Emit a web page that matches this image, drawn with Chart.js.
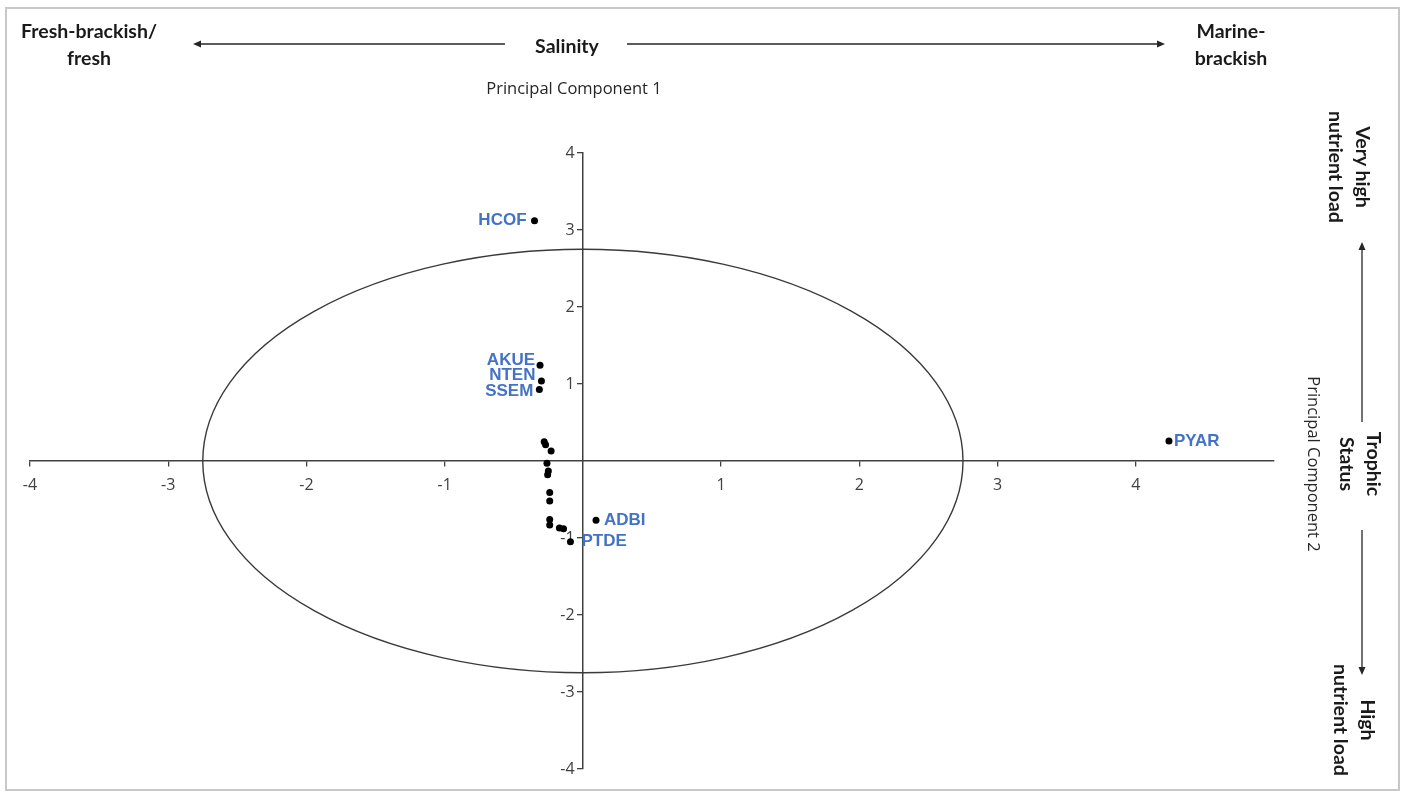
<!DOCTYPE html>
<html>
<head>
<meta charset="utf-8">
<script src="https://cdn.jsdelivr.net/npm/chart.js@4.4.0/dist/chart.umd.min.js"></script>
<style>
html,body{margin:0;padding:0;background:#fff;}
#wrap{position:relative;width:1403px;height:794px;overflow:hidden;background:#fff;}
#frame{position:absolute;left:5px;top:7px;width:1395px;height:784px;border:2px solid #c8c8c8;box-sizing:border-box;pointer-events:none;}
#c{position:absolute;left:0;top:0;}
.ann{position:absolute;transform:translate(-50%,-50%);font-family:Lato,'Liberation Sans',sans-serif;font-weight:700;font-size:19.5px;line-height:27px;color:#1a1a1a;text-align:center;white-space:nowrap;}
.rot{transform:translate(-50%,-50%) rotate(90deg);}
.reg{font-family:'Open Sans','Noto Sans',sans-serif;font-weight:400;font-size:16.5px;color:#262626;}
</style>
</head>
<body>
<div id="wrap">
<canvas id="c" width="1403" height="794"></canvas>
<div id="frame"></div>
<div class="ann" style="left:89px;top:44px;">Fresh-brackish/<br>fresh</div>
<div class="ann" style="left:567px;top:45px;">Salinity</div>
<div class="ann" style="left:1231px;top:44px;">Marine-<br>brackish</div>
<div class="ann reg" style="left:574px;top:87px;">Principal Component 1</div>
<div class="ann rot" style="left:1350px;top:167px;">Very high<br>nutrient load</div>
<div class="ann rot" style="left:1361px;top:464px;">Trophic<br>Status</div>
<div class="ann rot reg" style="left:1314px;top:464px;">Principal Component 2</div>
<div class="ann rot" style="left:1355px;top:720px;">High<br>nutrient load</div>
</div>
<script>
// ---- data ----
const siteLabels = ['HCOF','AKUE','NTEN','SSEM','','','','','','','','','','','','','PTDE','ADBI','PYAR'];
const pc1 = [-0.35,-0.31,-0.30,-0.315,-0.28,-0.27,-0.23,-0.26,-0.25,-0.255,-0.24,-0.24,-0.24,-0.24,-0.17,-0.14,-0.09,0.095,4.24];
const pc2 = [3.12,1.245,1.04,0.93,0.25,0.21,0.13,-0.03,-0.13,-0.18,-0.41,-0.52,-0.76,-0.83,-0.87,-0.88,-1.05,-0.77,0.26];
const xTickLabels = [-4,-3,-2,-1,1,2,3,4];
const yTickLabels = [-4,-3,-2,-1,1,2,3,4];
const ellipseRadiusPC1 = 2.75;
const ellipseRadiusPC2 = 2.75;

// label placement (style, not data)
const labelPlacement = {
  HCOF:{align:'right',dx:-8,dy:0},
  AKUE:{align:'right',dx:-5,dy:-5},
  NTEN:{align:'right',dx:-6,dy:-6},
  SSEM:{align:'right',dx:-6,dy:2},
  PTDE:{align:'left',dx:11,dy:-1},
  ADBI:{align:'left',dx:8,dy:0},
  PYAR:{align:'left',dx:5,dy:0}
};

const decor = {
  id:'decor',
  beforeDatasetsDraw(chart){
    const {ctx, scales:{x,y}} = chart;
    const cx = x.getPixelForValue(0), cy = y.getPixelForValue(0);
    const rx = Math.abs(x.getPixelForValue(ellipseRadiusPC1)-cx);
    const ry = Math.abs(y.getPixelForValue(ellipseRadiusPC2)-cy);
    ctx.save();
    ctx.beginPath();
    ctx.ellipse(cx,cy,rx,ry,0,0,Math.PI*2);
    ctx.strokeStyle='#3a3a3a';
    ctx.lineWidth=1.4;
    ctx.stroke();
    ctx.restore();
  },
  afterDatasetsDraw(chart){
    const {ctx} = chart;
    const meta = chart.getDatasetMeta(0);
    ctx.save();
    ctx.font = 'bold 17px "Liberation Sans", Arial, sans-serif';
    ctx.fillStyle = '#4472C4';
    ctx.textBaseline = 'middle';
    meta.data.forEach((pt,i)=>{
      const name = siteLabels[i];
      if(!name) return;
      const p = labelPlacement[name] || {align:'left',dx:6,dy:0};
      ctx.textAlign = p.align;
      ctx.fillText(name, pt.x + p.dx, pt.y + p.dy);
    });
    ctx.restore();
  },
  afterDraw(chart){
    const ctx = chart.ctx;
    function arrow(x1,y1,x2,y2){
      const ang = Math.atan2(y2-y1,x2-x1);
      const L=8, W=3.5;
      ctx.beginPath();
      ctx.moveTo(x1,y1);
      ctx.lineTo(x2-Math.cos(ang)*L*0.8,y2-Math.sin(ang)*L*0.8);
      ctx.stroke();
      ctx.beginPath();
      ctx.moveTo(x2,y2);
      ctx.lineTo(x2-Math.cos(ang)*L - Math.sin(ang)*W, y2-Math.sin(ang)*L + Math.cos(ang)*W);
      ctx.lineTo(x2-Math.cos(ang)*L + Math.sin(ang)*W, y2-Math.sin(ang)*L - Math.cos(ang)*W);
      ctx.closePath();
      ctx.fill();
    }
    ctx.save();
    ctx.strokeStyle='#262626';
    ctx.fillStyle='#262626';
    ctx.lineWidth=1.3;
    arrow(505,44,193,44);
    arrow(627,44,1165,44);
    arrow(1362,422,1362,242);
    arrow(1362,530,1362,675);
    ctx.restore();
  }
};

const tickFont = {family:"'Open Sans','Noto Sans',sans-serif", size:16};
new Chart(document.getElementById('c'), {
  type:'scatter',
  data:{datasets:[{
    data: pc1.map((v,i)=>({x:v,y:pc2[i]})),
    backgroundColor:'#000',
    borderWidth:0,
    pointRadius:3.5,
    pointHoverRadius:3.5
  }]},
  options:{
    responsive:false,
    animation:false,
    devicePixelRatio:1,
    events:[],
    layout:{padding:{left:30,right:129,top:153,bottom:25}},
    plugins:{legend:{display:false},tooltip:{enabled:false}},
    scales:{
      x:{
        type:'linear', min:-4, max:5, position:{y:0},
        grid:{drawOnChartArea:false, drawTicks:true, tickLength:5, lineWidth:1.3,
              tickColor:(c)=> (c.tick && xTickLabels.includes(c.tick.value)) ? '#404040' : 'rgba(0,0,0,0)'},
        border:{display:true,color:'#404040',width:1.5},
        ticks:{stepSize:1, autoSkip:false, maxRotation:0, color:'#404040', font:tickFont, padding:10,
               callback:(v)=> xTickLabels.includes(v) ? String(v) : ''}
      },
      y:{
        type:'linear', min:-4, max:4, position:{x:0},
        grid:{drawOnChartArea:false, drawTicks:true, tickLength:5, lineWidth:1.3,
              tickColor:(c)=> (c.tick && yTickLabels.includes(c.tick.value)) ? '#404040' : 'rgba(0,0,0,0)'},
        border:{display:true,color:'#404040',width:1.5},
        ticks:{stepSize:1, autoSkip:false, color:'#404040', font:tickFont, padding:2,
               callback:(v)=> yTickLabels.includes(v) ? String(v) + '  ' : ''}
      }
    }
  },
  plugins:[decor]
});
</script>
</body>
</html>
